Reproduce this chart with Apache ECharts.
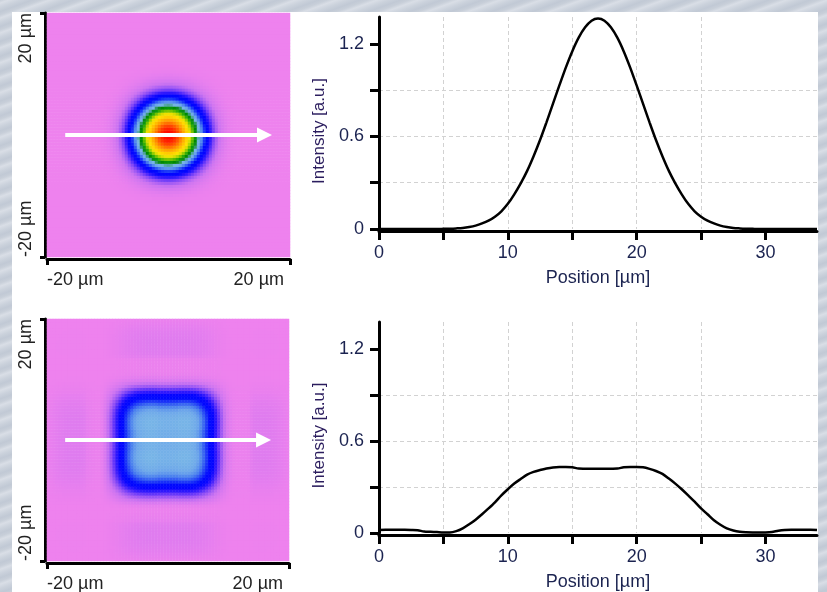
<!DOCTYPE html>
<html>
<head>
<meta charset="utf-8">
<title>Beam profiles</title>
<script src="https://cdn.jsdelivr.net/npm/echarts@6.0.0/dist/echarts.min.js"></script>
<style>
  html, body { margin: 0; padding: 0; width: 827px; height: 592px; overflow: hidden; }
  body {
    background: repeating-linear-gradient(160deg, #c8cfd9 0px, #d9dee6 3px, #cbd2dc 7px, #c1c9d5 11px, #c8cfd9 14px);
  }
  #panel { position: absolute; left: 12px; top: 12px; width: 806px; height: 580px; background: #fff; }
  #chart { position: absolute; left: 0; top: 0; width: 827px; height: 592px; }
</style>
</head>
<body>
<div id="panel"></div>
<div id="chart"></div>
<script>
// horizontal cut through each beam image, x = -20 .. 20 µm every 0.5 µm
const cutStep = 0.5;
const cutX = Array.from({ length: 81 }, (_, i) => -20 + i * cutStep);

// gaussian spot (top row)
const spotCut = [
  0, 0, 0, 0, 0, 0, 0, 0, 0, 0, 0, 0, 0, 0, 0, 0,
  0.001, 0.002, 0.004, 0.007, 0.013, 0.022, 0.036, 0.054, 0.08, 0.115, 0.163, 0.225,
  0.296, 0.377, 0.472, 0.577, 0.692, 0.811, 0.931, 1.047, 1.152, 1.241, 1.308, 1.351,
  1.365,
  1.351, 1.308, 1.241, 1.152, 1.047, 0.931, 0.811, 0.692, 0.577, 0.472, 0.377, 0.296,
  0.225, 0.163, 0.115, 0.08, 0.054, 0.036, 0.022, 0.013, 0.007, 0.004, 0.002, 0.001,
  0, 0, 0, 0, 0, 0, 0, 0, 0, 0, 0, 0, 0, 0, 0, 0
];

// flat-top beam (bottom row)
const flatCut = [
  0.006, 0.009, 0.012, 0.015, 0.017, 0.019,
  0.02, 0.021, 0.021, 0.021, 0.021, 0.02,
  0.018, 0.01, 0.008, 0.006, 0.004, 0.004,
  0.012, 0.03, 0.057, 0.087, 0.122, 0.16,
  0.2, 0.245, 0.285, 0.322, 0.352, 0.38,
  0.398, 0.41, 0.42, 0.427, 0.43, 0.43,
  0.428, 0.42, 0.419, 0.418, 0.418, 0.418,
  0.419, 0.42, 0.428, 0.43, 0.43, 0.428,
  0.418, 0.404, 0.385, 0.355, 0.322, 0.285,
  0.245, 0.204, 0.16, 0.122, 0.083, 0.054,
  0.03, 0.016, 0.008, 0.005, 0.004, 0.004,
  0.004, 0.006, 0.015, 0.02, 0.021, 0.021,
  0.021, 0.021, 0.02, 0.019, 0.017, 0.015,
  0.012, 0.009, 0.006
];

// the arrow on the image: profile position 0 starts at x = -17 µm
const arrowStart = -17;
const arrowEnd = 15.8;
const posMax = 34;

const posTicks = [0, 5, 10, 15, 20, 25, 30];
const posLabels = [0, 10, 20, 30];
const intTicks = [0, 0.3, 0.6, 0.9, 1.2];
const intLabels = [0, 0.6, 1.2];
const intMax = 1.375;

// colour table, 0 .. 1.4 in steps of 0.05
const beamColors = [
  '#ee82ee', '#cc74f1', '#8a4cf6', '#3a1cfc', '#0404ff', '#0008fe', '#2040f6', '#4a80ee',
  '#6ea8ea', '#78b6e6', '#1c8c3c', '#008800', '#10a010', '#48b400', '#88c800', '#c0d800',
  '#ece000', '#ffe000', '#ffd400', '#ffc400', '#ffb200', '#ffa000', '#ff8a00', '#ff7000',
  '#ff5600', '#ff3c00', '#ff2200', '#ff0800', '#ff0000'
];

const font = 'Liberation Sans, Arial, sans-serif';
const labelColor = '#1b2350';

function heatCells(cut) {
  const mid = cut[(cut.length - 1) / 2];
  const cells = [];
  cut.forEach((vy, j) => {
    cut.forEach((vx, i) => {
      cells.push([i, j, vx * vy / mid]);
    });
  });
  return cells;
}

function profile(cut) {
  return cutX
    .map((x, i) => [x - arrowStart, cut[i]])
    .filter(p => p[0] >= 0 && p[0] <= posMax);
}

const grids = [
  { left: 47, top: 13, width: 243, height: 244 },
  { left: 47, top: 13, width: 243, height: 244 },
  { left: 379, top: 17, width: 438, height: 212 },
  { left: 47, top: 319, width: 242, height: 242 },
  { left: 47, top: 319, width: 242, height: 242 },
  { left: 379, top: 322, width: 438, height: 211 }
].map(g => Object.assign({ outerBoundsMode: 'none', containLabel: false }, g));

function catAxis(grid) {
  return { type: 'category', gridIndex: grid, data: cutX.map(String), show: false };
}

const blackLine = { color: '#000', width: 3 };

function imgXAxis(grid) {
  return {
    type: 'value', gridIndex: grid, min: -20, max: 20, interval: 40, offset: 2,
    axisLine: { show: true, onZero: false, lineStyle: blackLine },
    axisTick: { show: true, length: 6, lineStyle: blackLine },
    axisLabel: {
      show: true, margin: 12, color: '#222', fontSize: 18, fontFamily: font,
      padding: [0, 6, 0, 0],
      formatter: v => v + ' µm', alignMinLabel: 'left', alignMaxLabel: 'right'
    },
    splitLine: { show: false }
  };
}

function imgYAxis(grid) {
  return {
    type: 'value', gridIndex: grid, min: -20, max: 20, interval: 40, offset: 2,
    axisLine: { show: true, onZero: false, lineStyle: blackLine },
    axisTick: { show: true, length: 5, lineStyle: blackLine },
    axisLabel: {
      show: true, margin: 10, rotate: 90, color: '#222', fontSize: 18, fontFamily: font,
      formatter: v => v + ' µm', alignMinLabel: 'left', alignMaxLabel: 'right'
    },
    splitLine: { show: false }
  };
}

const gridDash = { color: '#d2d2d2', width: 1, type: [4, 3] };

function posAxis(grid) {
  return {
    type: 'value', gridIndex: grid, min: 0, max: posMax, interval: 5, offset: 2,
    name: 'Position [µm]', nameLocation: 'middle', nameGap: 38,
    nameTextStyle: { fontSize: 18, color: labelColor, fontFamily: font },
    axisLine: { show: true, onZero: false, lineStyle: blackLine },
    axisTick: { show: true, length: 9, customValues: posTicks, lineStyle: blackLine },
    axisLabel: {
      show: true, margin: 13, fontSize: 18, color: labelColor, fontFamily: font,
      customValues: posLabels,
      formatter: v => (posLabels.includes(v) ? String(v) : '')
    },
    splitLine: { show: true, showMinLine: false, showMaxLine: false, lineStyle: gridDash }
  };
}

function intAxis(grid) {
  return {
    type: 'value', gridIndex: grid, min: 0, max: intMax, interval: 0.3,
    name: 'Intensity [a.u.]', nameLocation: 'middle', nameGap: 47,
    nameTextStyle: { fontSize: 17, color: '#2b1d5e', fontFamily: font, padding: [0, 16, 0, 0] },
    axisLine: { show: true, onZero: false, lineStyle: blackLine },
    axisTick: { show: true, length: 9, customValues: intTicks, lineStyle: blackLine },
    axisLabel: {
      show: true, margin: 15, fontSize: 18, color: labelColor, fontFamily: font,
      customValues: intLabels,
      formatter: v => (intLabels.includes(v) ? String(v) : '')
    },
    splitLine: { show: true, showMinLine: false, showMaxLine: false, lineStyle: gridDash }
  };
}

function heatSeries(grid, cut) {
  return {
    type: 'heatmap', xAxisIndex: grid, yAxisIndex: grid, data: heatCells(cut),
    progressive: 0, silent: true, itemStyle: { borderWidth: 0 },
    emphasis: { disabled: true }
  };
}

function arrowSeries(grid) {
  return {
    type: 'line', xAxisIndex: grid, yAxisIndex: grid, data: [], silent: true,
    markLine: {
      silent: true, animation: false,
      symbol: ['none', 'triangle'], symbolSize: 15,
      label: { show: false },
      lineStyle: { color: '#fff', width: 4, type: 'solid', opacity: 1 },
      emphasis: { disabled: true },
      data: [[{ coord: [arrowStart, 0] }, { coord: [arrowEnd, 0] }]]
    }
  };
}

function profileSeries(grid, cut) {
  return {
    type: 'line', xAxisIndex: grid, yAxisIndex: grid, data: profile(cut),
    symbol: 'none', smooth: 0.3, silent: true,
    lineStyle: { color: '#000', width: 2.5 }
  };
}

const chart = echarts.init(document.getElementById('chart'), null, { renderer: 'canvas' });

chart.setOption({
  animation: false,
  backgroundColor: 'transparent',
  textStyle: { fontFamily: font },
  grid: grids,
  xAxis: [catAxis(0), imgXAxis(1), posAxis(2), catAxis(3), imgXAxis(4), posAxis(5)],
  yAxis: [catAxis(0), imgYAxis(1), intAxis(2), catAxis(3), imgYAxis(4), intAxis(5)],
  visualMap: [{
    type: 'continuous', show: false, min: 0, max: 1.4, seriesIndex: [0, 3],
    inRange: { color: beamColors }
  }],
  series: [
    heatSeries(0, spotCut),
    arrowSeries(1),
    profileSeries(2, spotCut),
    heatSeries(3, flatCut),
    arrowSeries(4),
    profileSeries(5, flatCut)
  ]
});
</script>
</body>
</html>
